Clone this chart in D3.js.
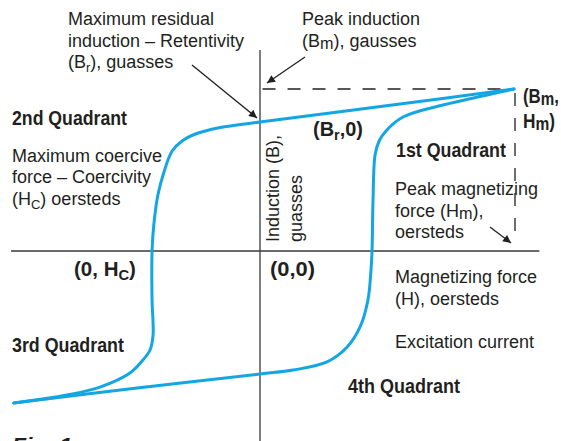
<!DOCTYPE html>
<html>
<head>
<meta charset="utf-8">
<script src="https://cdn.jsdelivr.net/npm/d3@7"></script>
<style>
  html, body { margin: 0; padding: 0; background: #fff; }
  svg { display: block; }
  .lbl { font-family: "Liberation Sans", Arial, sans-serif; font-size: 18px; fill: #231f20; }
  .bold { font-family: "Liberation Sans", Arial, sans-serif; font-weight: bold; font-size: 20px; fill: #231f20; }
</style>
</head>
<body>
<div id="chart"></div>
<script>
// Hysteresis loop, H and B in percent of peak (Hm, Bm)
const upper_branch = [
  [100, 100], [55.1, 90.7], [0, 79.6], [-15.7, 76.2], [-26.4, 71.6],
  [-30.7, 67.9], [-34.6, 61.7], [-37.8, 48.8], [-40.2, 34.6], [-41.7, 17.9],
  [-42.5, 0], [-42.5, -30.2], [-42.1, -51.9], [-43.3, -61.1], [-46.1, -67.3],
  [-51.2, -75.3], [-63.0, -84.0], [-76.0, -88.9], [-96.9, -93.8]
];
const lower_branch = [
  [-96.9, -93.8], [-48.4, -84.6], [0, -75.9], [13.0, -73.5], [26.4, -68.5],
  [34.3, -59.3], [39.4, -46.9], [42.5, -30.2], [43.7, -11.7], [44.1, 0],
  [44.5, 31.5], [45.3, 59.3], [46.9, 67.9], [49.6, 74.1], [56.3, 82.7],
  [72.0, 90.1], [89.4, 96.3], [100, 100]
];
const peak = [100, 100];
const h_extent = [-98, 110];   // horizontal axis span
const b_extent = [-125, 124];  // vertical axis span

const __CONFIG__ = {
  width: 561,
  height: 441,
  blue: "#13a6e3",
  ink: "#231f20"
};

function main(config=__CONFIG__) {
  const svg = d3.select("#chart").append("svg")
      .attr("width", config.width)
      .attr("height", config.height);

  svg.append("rect")
      .attr("width", config.width)
      .attr("height", config.height)
      .attr("fill", "#fff");

  const x = d3.scaleLinear().domain([0, 100]).range([260, 514]);
  const y = d3.scaleLinear().domain([0, 100]).range([251, 89]);

  const defs = svg.append("defs");
  defs.append("marker")
      .attr("id", "arrow")
      .attr("viewBox", "0 0 10 10")
      .attr("refX", 10)
      .attr("refY", 5)
      .attr("markerWidth", 11)
      .attr("markerHeight", 8)
      .attr("markerUnits", "userSpaceOnUse")
      .attr("orient", "auto")
    .append("path")
      .attr("d", "M0,0 L10,5 L0,10 Z")
      .attr("fill", config.ink);

  // axes
  const axes = svg.append("g")
      .attr("stroke", "#3a3a3a")
      .attr("stroke-width", 1.3);
  axes.append("line")
      .attr("x1", x(h_extent[0])).attr("x2", x(h_extent[1]))
      .attr("y1", y(0)).attr("y2", y(0));
  axes.append("line")
      .attr("x1", x(0)).attr("x2", x(0))
      .attr("y1", y(b_extent[1])).attr("y2", config.height);

  // dashed guides to the peak
  const dash = svg.append("g")
      .attr("stroke", config.ink)
      .attr("stroke-width", 1.3)
      .attr("stroke-dasharray", "13,12");
  dash.append("line")
      .attr("x1", x(1)).attr("x2", x(peak[0]) - 12)
      .attr("y1", y(peak[1])).attr("y2", y(peak[1]));
  dash.append("line")
      .attr("x1", x(peak[0]) + 1).attr("x2", x(peak[0]) + 1)
      .attr("y1", y(peak[1]) + 4).attr("y2", y(5));

  // the loop
  const line = d3.line()
      .x(d => x(d[0]))
      .y(d => y(d[1]))
      .curve(d3.curveCatmullRom.alpha(0.5));
  svg.selectAll("path.branch")
    .data([upper_branch, lower_branch])
    .join("path")
      .classed("branch", true)
      .attr("d", line)
      .attr("fill", "none")
      .attr("stroke", config.blue)
      .attr("stroke-width", 3)
      .attr("stroke-linecap", "round");

  // pointer arrows
  const arrows = [
    [[192, 65], [257, 118]],
    [[305, 57], [267, 83]],
    [[490, 227], [511, 243]]
  ];
  svg.selectAll("line.arrow")
    .data(arrows)
    .join("line")
      .classed("arrow", true)
      .attr("x1", d => d[0][0]).attr("y1", d => d[0][1])
      .attr("x2", d => d[1][0]).attr("y2", d => d[1][1])
      .attr("stroke", config.ink)
      .attr("stroke-width", 1.3)
      .attr("marker-end", "url(#arrow)");

  // text labels, parts: [text, sub?]; bold ones get squeezed to width w
  const labels = [
    {cls: "lbl", x: 68, y: 25, parts: [["Maximum residual"]]},
    {cls: "lbl", x: 68, y: 47, parts: [["induction – Retentivity"]]},
    {cls: "lbl", x: 68, y: 68, parts: [["(B"], ["r", 1], ["), guasses"]]},
    {cls: "lbl", x: 302, y: 25, parts: [["Peak induction"]]},
    {cls: "lbl", x: 302, y: 47, parts: [["(B"], ["m", 2], ["), gausses"]]},
    {cls: "bold", x: 12, y: 125, w: 115, parts: [["2nd Quadrant"]]},
    {cls: "lbl", x: 12, y: 162, parts: [["Maximum coercive"]]},
    {cls: "lbl", x: 12, y: 183, parts: [["force – Coercivity"]]},
    {cls: "lbl", x: 12, y: 205, parts: [["(H"], ["C", 1], [") oersteds"]]},
    {cls: "bold", x: 313, y: 136, w: 50, parts: [["(B"], ["r", 1], [",0)"]]},
    {cls: "bold", x: 523, y: 103, w: 36, parts: [["(B"], ["m", 2], [","]]},
    {cls: "bold", x: 523, y: 128, w: 32, parts: [["H"], ["m", 2], [")"]]},
    {cls: "bold", x: 396, y: 157, w: 110, parts: [["1st Quadrant"]]},
    {cls: "lbl", x: 395, y: 195, parts: [["Peak magnetizing"]]},
    {cls: "lbl", x: 395, y: 217, parts: [["force (H"], ["m", 2], ["),"]]},
    {cls: "lbl", x: 395, y: 238, parts: [["oersteds"]]},
    {cls: "bold", x: 74, y: 276, w: 62, parts: [["(0, H"], ["C", 1], [")"]]},
    {cls: "bold", x: 270, y: 276, w: 45, parts: [["(0,0)"]]},
    {cls: "lbl", x: 395, y: 283, parts: [["Magnetizing force"]]},
    {cls: "lbl", x: 395, y: 305, parts: [["(H), oersteds"]]},
    {cls: "lbl", x: 395, y: 348, parts: [["Excitation current"]]},
    {cls: "bold", x: 12, y: 352, w: 112, parts: [["3rd Quadrant"]]},
    {cls: "bold", x: 348, y: 393, w: 112, parts: [["4th Quadrant"]]},
    {cls: "bold", x: 12, y: 452, w: 60, italic: true, parts: [["Fig. 1"]]}
  ];

  const texts = svg.selectAll("text.label")
    .data(labels)
    .join("text")
      .attr("class", d => "label " + d.cls)
      .attr("font-style", d => d.italic ? "italic" : null)
      .attr("transform", d => `translate(${d.x},${d.y})`);
  texts.each(function(d) {
    const t = d3.select(this);
    const has_sub = d.parts.some(p => p[1] == 1);
    d.parts.forEach(([s, sub], i) => {
      const span = t.append("tspan").text(s);
      if (sub == 1)       // real subscript
        span.attr("font-size", "0.72em").attr("dy", 4);
      else if (sub == 2)  // slightly lowered small letters
        span.attr("font-size", "0.9em").attr("dy", 2);
      else if (i > 0)
        span.attr("dy", has_sub ? -4 : -2);
    });
    if (d.w) {
      const natural = this.getComputedTextLength();
      t.attr("transform", `translate(${d.x},${d.y}) scale(${d.w / natural},1.05)`);
    }
  });

  // rotated axis title
  const rot = svg.append("g")
      .attr("transform", "translate(279,242) rotate(-90)");
  rot.append("text").attr("class", "lbl").attr("x", 0).attr("y", 0).text("Induction (B),");
  rot.append("text").attr("class", "lbl").attr("x", 0).attr("y", 23).text("guasses");
}

main();
</script>
</body>
</html>
